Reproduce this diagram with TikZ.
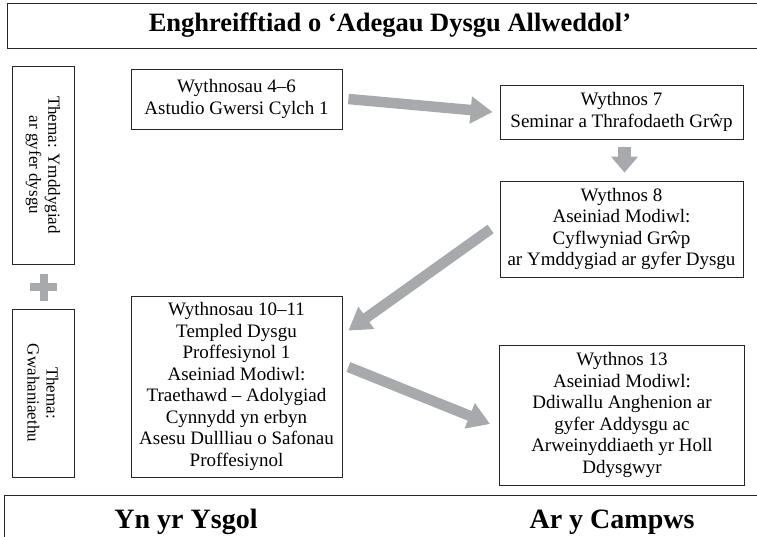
\documentclass[tikz,border=0pt]{standalone}
\usepackage{fontspec}
\setmainfont{Liberation Serif}
\usetikzlibrary{arrows.meta}
\definecolor{arrowgrey}{RGB}{167,169,172}

\begin{document}
\begin{tikzpicture}[x=1pt,y=-1pt,
  box/.style={draw=black!85,line width=0.8pt,align=center,inner sep=2pt,
    font=\fontsize{19}{21.5}\selectfont},
  sidebox/.style={box,rotate=-90,minimum height=62pt,
    font=\fontsize{17}{19}\selectfont},
  band/.style={draw=black!85,line width=0.8pt,minimum width=766pt},
  heading/.style={font=\fontsize{28}{32}\selectfont\bfseries},
  bigarrow/.style={arrowgrey,line width=10.5pt,-{Triangle[width=26pt,length=22pt]}}]
  \useasboundingbox (0,0) rectangle (757,536);
  % bands
  \node[band,minimum height=45pt,font=\fontsize{26.5}{30}\selectfont\bfseries]
    (title) at (390,25.5) {Enghreifftiad o `Adegau Dysgu Allweddol'};
  \node[band,minimum height=60pt] (base) at (387,525) {};
  \node[heading,anchor=base] (school) at (186,528) {Yn yr Ysgol};
  \node[heading,anchor=base] (campus) at (612,528) {Ar y Campws};
  % themes
  \node[sidebox,minimum width=198pt] (theme1) at (43,165) {Thema: Ymddygiad\\ar gyfer dysgu};
  \node[sidebox,minimum width=168pt] (theme2) at (43,393) {Thema:\\Gwahaniaethu};
  \fill[arrowgrey] (39.5,273.5) rectangle (47.5,300.5);
  \fill[arrowgrey] (30,283) rectangle (57,291);
  % weeks
  \node[box,minimum width=211pt,minimum height=60pt] (wk46) at (236.5,99)
    {Wythnosau 4--6\\Astudio Gwersi Cylch 1};
  \node[box,minimum width=243pt,minimum height=54pt] (wk7) at (621.5,112)
    {Wythnos 7\\Seminar a Thrafodaeth Grŵp};
  \node[box,minimum width=243pt,minimum height=96pt] (wk8) at (621.5,229)
    {Wythnos 8\\Aseiniad Modiwl:\\Cyflwyniad Grŵp\\ar Ymddygiad ar gyfer Dysgu};
  \node[box,minimum width=211pt,minimum height=181pt] (wk1011) at (236.5,386.5)
    {Wythnosau 10--11\\Templed Dysgu\\Proffesiynol 1\\Aseiniad Modiwl:\\Traethawd -- Adolygiad\\Cynnydd yn erbyn\\Asesu Dullliau o Safonau\\Proffesiynol};
  \node[box,minimum width=245pt,minimum height=140pt] (wk13) at (622,415)
    {Wythnos 13\\Aseiniad Modiwl:\\Ddiwallu Anghenion ar\\gyfer Addysgu ac\\Arweinyddiaeth yr Holl\\Ddysgwyr};
  % arrows
  \draw[bigarrow] ([xshift=6pt]wk46.east) -- ([xshift=-7pt]wk7.west);
  \draw[bigarrow,line width=13pt,-{Triangle[width=26pt,length=16pt]}]
    ([xshift=3pt,yshift=-8pt]wk7.south) -- ([xshift=3pt,yshift=8pt]wk8.north);
  \draw[bigarrow] ([xshift=-9pt]wk8.west) -- ([xshift=6pt,yshift=-35pt]wk1011.north east);
  \draw[bigarrow] ([xshift=6pt,yshift=19.5pt]wk1011.east) -- ([xshift=-9pt,yshift=-9pt]wk13.west);
\end{tikzpicture}
\end{document}
